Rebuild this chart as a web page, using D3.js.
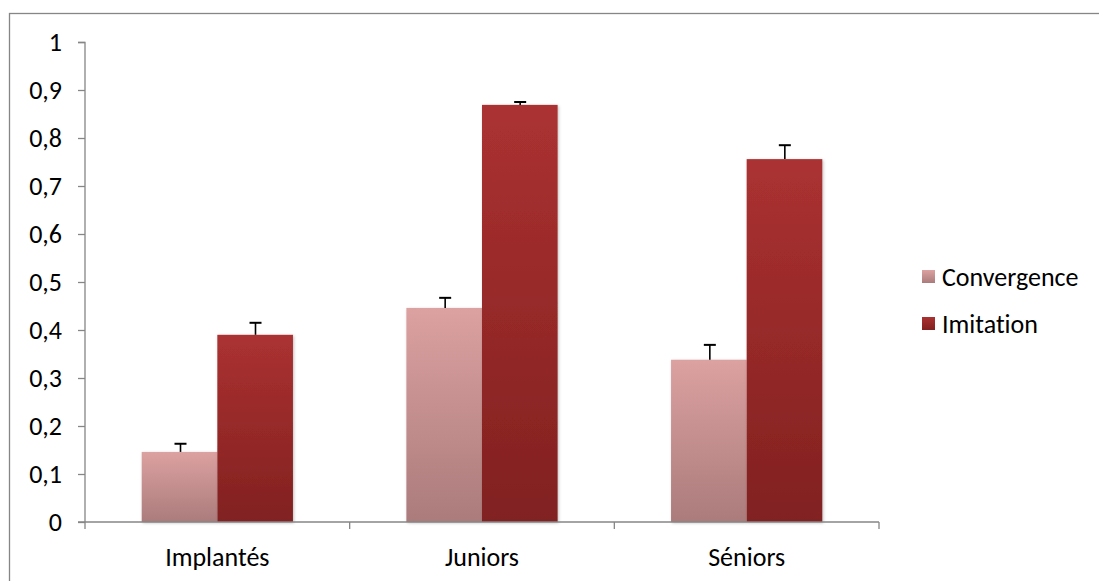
<!DOCTYPE html>
<html><head><meta charset="utf-8">
<script src="https://cdn.jsdelivr.net/npm/d3@7"></script>
<style>body{margin:0;background:#fff;} svg{display:block;} text{font-variant-ligatures:none;font-feature-settings:"liga" 0;}</style>
</head><body>
<svg id="c" width="1099" height="581"></svg>
<script>
const categories = ["Implantés", "Juniors", "Séniors"];
const seriesNames = ["Convergence", "Imitation"];
const convergence = [0.146, 0.446, 0.338];
const imitation = [0.390, 0.869, 0.756];
const convergenceErr = [0.017, 0.021, 0.031];
const imitationErr = [0.025, 0.006, 0.029];
const yTicks = [0, 0.1, 0.2, 0.3, 0.4, 0.5, 0.6, 0.7, 0.8, 0.9, 1];

const svg = d3.select("#c");
const font = "Calibri, Carlito, Lato, sans-serif";
const fs = 26;
const defs = svg.append("defs");
function grad(id, top, bottom){
  const g = defs.append("linearGradient").attr("id", id).attr("x1",0).attr("y1",0).attr("x2",0).attr("y2",1);
  g.append("stop").attr("offset","0%").attr("stop-color",top);
  g.append("stop").attr("offset","100%").attr("stop-color",bottom);
}
grad("gConv", "#dca1a1", "#ab7b7b");
grad("gImit", "#ab3131", "#812120");
const f = defs.append("filter").attr("id","sh").attr("x","-20%").attr("y","-5%").attr("width","140%").attr("height","115%");
f.append("feDropShadow").attr("dx",1).attr("dy",1).attr("stdDeviation",1.5).attr("flood-color","#000").attr("flood-opacity",0.25);

// frame
svg.append("rect").attr("x",9.5).attr("y",13.5).attr("width",1200).attr("height",700)
  .attr("fill","none").attr("stroke","#868686").attr("stroke-width",1.3);

const x0 = 85, x1 = 879, yTop = 42, yBot = 522;
const x = d3.scaleBand().domain(categories).range([x0, x1]);
const y = d3.scaleLinear().domain([0,1]).range([yBot, yTop]);
const xs = d3.scaleBand().domain(seriesNames).range([0, x.bandwidth()]).paddingOuter(0.75).paddingInner(0);

const data = categories.map((c,i)=>({c, vals:[
  {s:"Convergence", v:convergence[i], e:convergenceErr[i], fill:"url(#gConv)"},
  {s:"Imitation", v:imitation[i], e:imitationErr[i], fill:"url(#gImit)"}]}));

const g = svg.append("g");
const grp = g.selectAll("g.cat").data(data).join("g").attr("transform", d=>`translate(${x(d.c)},0)`);
grp.selectAll("rect").data(d=>d.vals).join("rect")
  .attr("x", d=>xs(d.s)).attr("width", xs.bandwidth())
  .attr("y", d=>y(d.v)).attr("height", d=>y(0)-y(d.v))
  .attr("fill", d=>d.fill).attr("filter","url(#sh)");
// error bars
grp.selectAll("g.err").data(d=>d.vals).join("g").each(function(d){
  const cx = Math.round(xs(d.s) + xs.bandwidth()/2) + 0.5;
  const s = d3.select(this);
  s.append("line").attr("x1",cx).attr("x2",cx).attr("y1",y(d.v)).attr("y2",y(d.v+d.e)).attr("stroke","#000").attr("stroke-width",1.6);
  s.append("line").attr("x1",cx-6).attr("x2",cx+6).attr("y1",y(d.v+d.e)).attr("y2",y(d.v+d.e)).attr("stroke","#000").attr("stroke-width",2);
});

// y axis
const yAxis = d3.axisLeft(y).tickValues(yTicks).tickSize(7).tickPadding(16)
  .tickFormat(d=> d===0 ? "0" : d===1 ? "1" : d3.format(".1f")(d).replace(".", ","));
const ya = svg.append("g").attr("transform",`translate(${x0},0)`).call(yAxis);
ya.select(".domain").attr("stroke","#868686").attr("stroke-width",1.3).attr("d",`M-7,${yTop}.5H0V${yBot}`);
ya.selectAll(".tick line").attr("stroke","#868686").attr("stroke-width",1.3);
ya.selectAll("text").attr("font-family",font).attr("font-size",fs).attr("fill","#000");

// x axis
const xa = svg.append("g").attr("transform",`translate(0,${yBot})`);
xa.append("line").attr("x1",x0-7).attr("x2",x1).attr("y1",0).attr("y2",0).attr("stroke","#868686").attr("stroke-width",1.3);
const xTickPos = categories.map(c=>x(c)).concat([x1]);
xa.selectAll("line.t").data(xTickPos).join("line").attr("class","t")
  .attr("x1",d=>d).attr("x2",d=>d).attr("y1",0).attr("y2",7).attr("stroke","#868686").attr("stroke-width",1.3);
xa.selectAll("text").data(categories).join("text")
  .attr("x", d=>x(d)+x.bandwidth()/2).attr("y", 44).attr("text-anchor","middle")
  .attr("font-family",font).attr("font-size",fs).attr("fill","#000").text(d=>d);

// legend
const leg = svg.append("g").attr("transform","translate(922,270)");
const legFill = ["url(#gConv)","url(#gImit)"];
const li = leg.selectAll("g").data(seriesNames).join("g").attr("transform",(d,i)=>`translate(0,${i*47})`);
li.append("rect").attr("width",13).attr("height",13).attr("fill",(d,i)=>legFill[i]);
li.append("text").attr("x",20).attr("y",16).attr("font-family",font).attr("font-size",fs).attr("fill","#000").text(d=>d);
</script>
</body></html>
